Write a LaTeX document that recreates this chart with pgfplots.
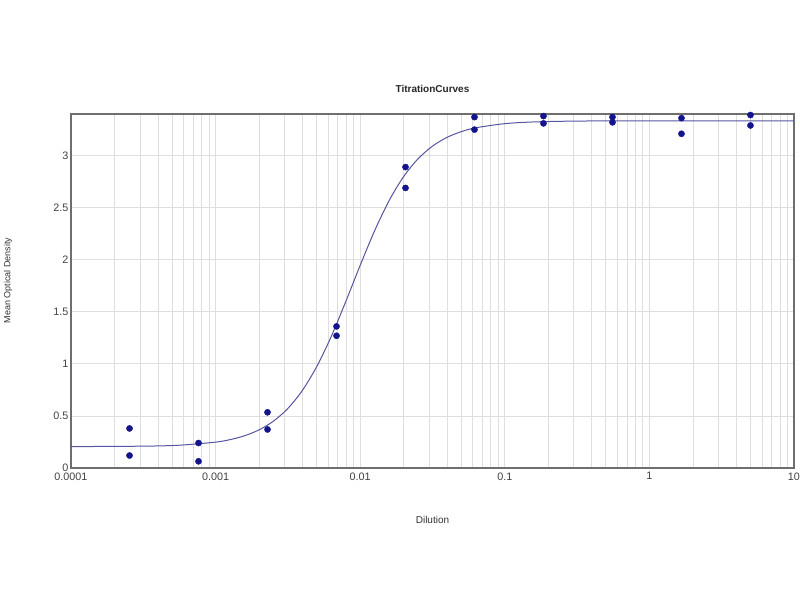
\documentclass[border=0pt]{standalone}
\usepackage{fontspec}
\setmainfont{Liberation Sans}
\usepackage{pgfplots}
\pgfplotsset{compat=1.18}
\definecolor{dotblue}{RGB}{20,20,140}
\definecolor{fitblue}{RGB}{85,85,160}
\definecolor{gridgray}{RGB}{222,222,222}
\definecolor{framegray}{RGB}{110,110,110}
\begin{document}
\begin{tikzpicture}
\useasboundingbox (0,0) rectangle (800pt,600pt);
\begin{semilogxaxis}[
    at={(71pt,132pt)}, anchor=south west,
    scale only axis,
    width=723pt, height=354pt,
    xmin=0.0001, xmax=10,
    ymin=0, ymax=3.4,
    xtick={0.0001,0.001,0.01,0.1,1,10},
    xticklabels={0.0001,0.001,0.01,0.1,1,10},
    ytick={0,0.5,1,1.5,2,2.5,3},
    yticklabels={0,0.5,1,1.5,2,2.5,3},
    tick style={draw=none},
    minor tick style={draw=none},
    tick label style={font=\fontsize{10.8}{13}\selectfont, text=black!75},
    xticklabel style={yshift=-1pt},
    yticklabel style={xshift=1pt},
    grid=both,
    major grid style={gridgray, line width=0.8pt},
    minor grid style={gridgray, line width=0.8pt},
    axis line style={framegray, line width=1.3pt},
    every axis title shift=0pt,
    title={TitrationCurves},
    title style={font=\fontsize{10}{12}\selectfont\bfseries, text=black!85, at={(0.5,1.072)}, anchor=center},
    xlabel={Dilution},
    xlabel style={font=\fontsize{10}{12}\selectfont, text=black!80, at={(0.5,-0.147)}, anchor=center},
    ylabel={Mean Optical Density},
    ylabel style={font=\fontsize{9}{11}\selectfont, text=black!80, at={(-0.087,0.53)}, anchor=center, rotate=0},
    clip=false,
    ]
% fitted 4PL curve
\addplot[color=fitblue, line width=1pt, smooth] coordinates {
    (0.0001,0.2055) (0.000316,0.2097) (0.000562,0.219) (0.001,0.2485)
    (0.001259,0.2726) (0.001585,0.3096) (0.001995,0.3658) (0.002512,0.4498)
    (0.003162,0.5722) (0.003981,0.7446) (0.005012,0.9752) (0.006310,1.2639)
    (0.007943,1.5973) (0.01,1.9470) (0.01259,2.2798) (0.01585,2.5682)
    (0.01995,2.7980) (0.02512,2.9695) (0.03162,3.0915) (0.03981,3.1751)
    (0.05012,3.2310) (0.06310,3.2678) (0.1,3.3073) (0.1585,3.3237)
    (0.3162,3.3320) (1,3.3347) (10,3.335)
};
% replicate measurements
\addplot[only marks, mark=*, mark size=3.1pt, color=dotblue] coordinates {
    (0.000254,0.38) (0.000254,0.12)
    (0.000762,0.24) (0.000762,0.064)
    (0.002286,0.535) (0.002286,0.37)
    (0.00686,1.36) (0.00686,1.27)
    (0.02058,2.89) (0.02058,2.69)
    (0.06173,3.37) (0.06173,3.25)
    (0.1852,3.38) (0.1852,3.31)
    (0.5556,3.37) (0.5556,3.32)
    (1.667,3.36) (1.667,3.21)
    (5,3.39) (5,3.29)
};
\end{semilogxaxis}
\end{tikzpicture}
\end{document}
